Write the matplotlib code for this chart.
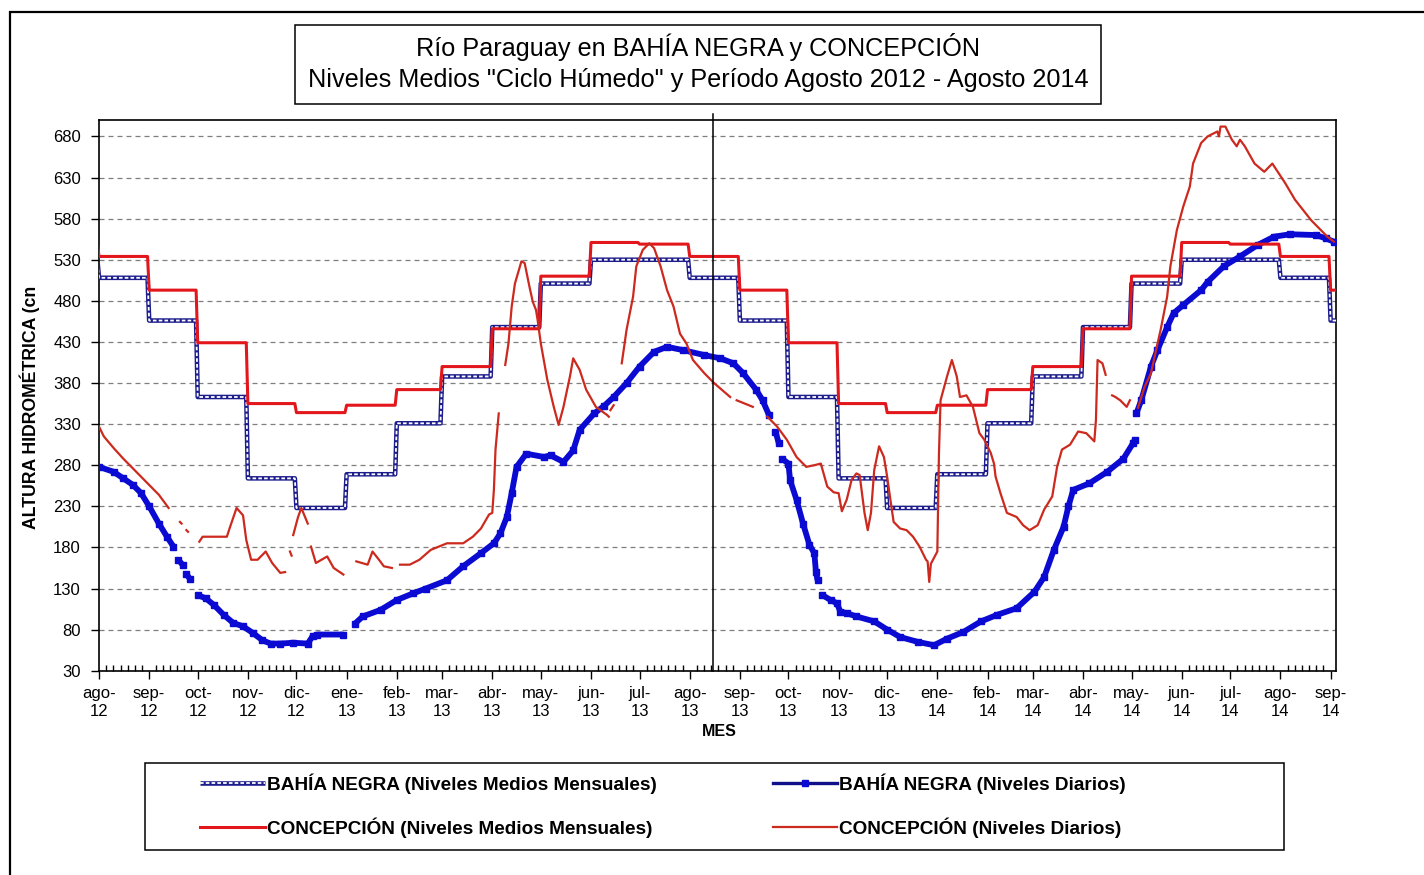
import numpy as np
import pandas as pd
import matplotlib
matplotlib.use('Agg')
import matplotlib.pyplot as plt
from matplotlib.lines import Line2D
from matplotlib.patches import Rectangle
from matplotlib import font_manager as fm
from matplotlib.ticker import FixedLocator, FixedFormatter, NullFormatter
import matplotlib.dates as mdates

# ---------------- DATA ----------------
START = pd.Timestamp('2012-08-01')
END = pd.Timestamp('2014-09-04 08:00')
DIVIDER_DATE = pd.Timestamp('2013-08-15 12:00')

# monthly means (step series), one value per month from jul-12 to sep-14
MONTH_START = pd.date_range('2012-07-01', '2014-09-01', freq='MS')
BN_MONTHLY = [530, 508, 456, 363, 264, 228, 269, 331, 388, 448, 501, 530,
              530, 508, 456, 363, 264, 228, 269, 331, 388, 448, 501, 530,
              530, 508, 456]
CONC_MONTHLY = [550, 534, 493, 429, 355, 344, 353, 372, 400, 446, 510, 551,
                549, 534, 493, 429, 355, 344, 353, 372, 400, 446, 510, 551,
                549, 534, 493]

# daily levels: day offset from 2012-08-01, value (nan = missing)
nan = np.nan
BN_DAY = [0, 9, 15, 21, 26, 31, 37, 42, 46, 47, 49, 52, 53, 54, 56, 57,
          61, 66, 71, 77, 83, 89, 95, 101, 106, 112, 120, 129, 132, 135, 151, 154,
          158, 163, 174, 184, 194, 202, 215, 225, 236, 244, 248, 252, 255, 258,
          264, 275, 279, 287, 293, 297, 306, 312, 318, 326, 334, 343, 351, 361,
          374, 384, 392, 398, 406, 410, 414, 416, 418, 420, 421, 422, 426, 427,
          431, 435, 439, 442, 443, 444, 445, 447, 452, 456, 458, 462, 468, 479,
          487, 495, 506, 516, 524, 534, 545, 555, 567, 578, 584, 590, 596, 599,
          602, 612, 623, 633, 639, 640, 640.5, 641, 644, 650, 654, 660, 664, 670,
          681, 685, 695, 705, 716, 726, 736, 752, 758, 763]
BN_VAL = [278, 272, 264, 256, 246, 230, 209, 193, 181, nan, 165, 158, nan, 148, 142, nan,
          122, 118, 110, 98, 88, 84, 76, 67, 63, 63, 64, 63, 72, 74, 74, nan,
          87, 96, 104, 116, 124, 130, 140, 157, 173, 185, 197, 217, 246, 278,
          294, 290, 292, 284, 298, 323, 343, 352, 363, 380, 400, 418, 424, 420,
          414, 410, 404, 392, 372, 359, 341, nan, 321, 307, nan, 288, 282, 262,
          238, 209, 183, 173, 150, 140, nan, 122, 116, 112, 102, 100, 96, 90,
          80, 71, 65, 61, 69, 77, 90, 98, 106, 126, 144, 177, 205, 230,
          250, 258, 272, 288, 307, 311, nan, 343, 359, 400, 420, 448, 465, 475,
          493, 503, 522, 534, 548, 558, 561, 560, 556, 552]

CONC_DAY = [0, 3, 9, 15, 23, 30, 37, 43, 46, 50, 51, 52, 54, 55, 58,
            62, 64, 71, 79, 81, 85, 89, 91, 94, 98, 103, 107, 112, 115, 117,
            118, 119, 119.5, 120, 123, 125, 129, 130,
            131, 134, 141, 145, 151, 155,
            159, 166, 169, 173, 176, 181, 184,
            186, 192, 198, 205, 215, 225, 231, 236, 241, 243, 244, 245, 247, 249,
            251, 253, 255, 257, 261, 263, 266, 268, 270, 271, 273, 277, 281, 284,
            287, 291, 293, 297, 301, 307, 314, 315, 315.5, 316, 318, 320,
            323, 326, 330, 332, 336, 340, 343, 347, 351, 355, 359, 363, 367, 374,
            380, 390, 392, 394, 404, 408,
            413, 419, 425, 431, 437, 442, 446, 450, 454, 457, 459, 462, 465, 468,
            470, 473, 475, 477, 479, 482, 485, 487, 489, 491, 495, 499, 503, 507,
            511, 512, 513, 514, 518, 519, 520, 524, 527, 530, 532, 536, 540, 544,
            547, 551, 553, 554, 557, 561, 567, 571, 575, 580, 584, 589, 592, 595,
            600, 605, 610, 615, 616, 617, 620, 622, 624,
            626, 628, 631, 635, 637, 639,
            642, 646, 650, 656, 660, 662, 666, 670, 674, 676, 681, 685, 691, 692,
            693, 696, 700, 703, 705, 708, 714, 720, 725, 733, 739, 743, 749, 755,
            759, 763]
CONC_VAL = [327, 315, 301, 288, 272, 258, 244, 228, nan, 211, 209, nan, 201, 199, nan,
            187, 193, 193, 193, 205, 228, 219, 189, 165, 165, 175, 161, 149, 150, nan,
            175, 170, nan, 195, 217, 228, 209, nan,
            181, 161, 169, 155, 147, nan,
            163, 159, 175, 165, 157, 155, nan,
            159, 159, 165, 177, 185, 185, 193, 203, 220, 222, 250, 299, 343, nan,
            402, 428, 473, 501, 528, 526, 497, 479, 469, 457, 428, 384, 351, 329,
            351, 388, 410, 396, 372, 351, 341, 339, nan, 347, 353, nan,
            404, 445, 485, 522, 542, 550, 544, 522, 493, 473, 440, 428, 408, 392,
            380, 363, nan, 359, 351, nan,
            339, 327, 311, 290, 278, 280, 282, 254, 247, 246, 224, 238, 262, 270,
            268, 222, 201, 222, 274, 303, 290, 266, 238, 211, 203, 201, 193, 181,
            165, 163, 138, 160, 175, 294, 359, 388, 408, 388, 363, 365, 351, 319,
            311, 295, 282, 266, 246, 222, 217, 207, 201, 207, 226, 242, 278, 299,
            305, 321, 319, 309, 335, 408, 404, 390, nan,
            365, 363, 359, 351, 359, nan,
            350, 375, 392, 445, 485, 522, 566, 595, 619, 647, 672, 680, 686, 680,
            692, 692, 676, 668, 676, 668, 647, 637, 647, 623, 603, 593, 578, 566,
            558, 552]

MONTH_ABBR = ['ene', 'feb', 'mar', 'abr', 'may', 'jun',
              'jul', 'ago', 'sep', 'oct', 'nov', 'dic']

TITLE_1 = 'Río Paraguay en BAHÍA NEGRA y CONCEPCIÓN'
TITLE_2 = 'Niveles Medios "Ciclo Húmedo" y Período Agosto 2012 - Agosto 2014'
YLABEL = 'ALTURA HIDROMÉTRICA (cn'
XLABEL = 'MES'
LEG_BN_M = 'BAHÍA NEGRA (Niveles Medios Mensuales)'
LEG_BN_D = 'BAHÍA NEGRA (Niveles Diarios)'
LEG_CO_M = 'CONCEPCIÓN (Niveles Medios Mensuales)'
LEG_CO_D = 'CONCEPCIÓN (Niveles Diarios)'

# ---------------- STYLE ----------------
avail = {f.name for f in fm.fontManager.ttflist}
BASE = 'Liberation Sans' if 'Liberation Sans' in avail else 'DejaVu Sans'
plt.rcParams['font.family'] = [BASE, 'DejaVu Sans']

W, H = 1424, 875
fig = plt.figure(figsize=(W / 100, H / 100), dpi=100)
fig.patch.set_facecolor('white')

def fx(px):
    return px / W

def fy(py):
    return 1 - py / H

ax_l, ax_r, ax_t, ax_b = 99, 1336, 120, 670.7
ax = fig.add_axes([fx(ax_l), fy(ax_b), fx(ax_r - ax_l), (ax_b - ax_t) / H])

# monthly step series expanded to daily resolution
daily_idx = pd.date_range('2012-07-01', '2014-09-30', freq='D')
bn_m_s = pd.Series(BN_MONTHLY, index=MONTH_START).reindex(daily_idx, method='ffill')
co_m_s = pd.Series(CONC_MONTHLY, index=MONTH_START).reindex(daily_idx, method='ffill')

NAVY = '#1c1c8c'
BLUE = '#0a0ad2'
RED_M = '#e3161b'
RED_D = '#cc2a1e'

l_bn_m1, = ax.plot(bn_m_s.index, bn_m_s.values, color=NAVY, lw=3.3, zorder=3,
                   solid_capstyle='butt')
l_bn_m2, = ax.plot(bn_m_s.index, bn_m_s.values, color='white', lw=1.3, zorder=3.1,
                   dashes=(2.0, 1.2), dash_capstyle='butt')

bn_x = START + pd.to_timedelta(BN_DAY, unit='D')
l_bn_d, = ax.plot(bn_x, BN_VAL, color=BLUE, lw=4.2, marker='s', markersize=5,
                  markerfacecolor=BLUE, markeredgecolor=BLUE, zorder=4,
                  solid_capstyle='butt')

l_co_m, = ax.plot(co_m_s.index, co_m_s.values, color=RED_M, lw=2.2, zorder=5)

co_x = START + pd.to_timedelta(CONC_DAY, unit='D')
l_co_d, = ax.plot(co_x, CONC_VAL, color=RED_D, lw=1.6, zorder=6)

# divider line
ax.axvline(DIVIDER_DATE, ymin=0, ymax=1.011, color='black', lw=1.1, clip_on=False, zorder=7)

ax.set_xlim(START, END)
ax.set_ylim(30, 700)

# y ticks
ax.set_yticks(np.arange(30, 681, 50))
ax.tick_params(axis='y', direction='out', length=6, width=1, pad=7, labelsize=12)
ax.yaxis.grid(True, color='#7f7f7f', lw=0.9, dashes=(4, 3.2))
ax.set_axisbelow(True)

# x ticks
majors = pd.date_range('2012-08-01', '2014-09-01', freq='MS')
labels = [f"{MONTH_ABBR[d.month - 1]}-\n{d.year % 100:02d}" for d in majors]
ax.xaxis.set_major_locator(FixedLocator(mdates.date2num(majors)))
ax.xaxis.set_major_formatter(FixedFormatter(labels))
minor_pos = []
edges = list(majors) + [pd.Timestamp('2014-10-01')]
for a, b in zip(edges[:-1], edges[1:]):
    span = (b - a) / 7
    for k in range(1, 7):
        t = a + k * span
        if t <= END:
            minor_pos.append(mdates.date2num(t))
ax.xaxis.set_minor_locator(FixedLocator(minor_pos))
ax.xaxis.set_minor_formatter(NullFormatter())
ax.tick_params(axis='x', which='major', direction='out', length=6, width=1, pad=5,
               labelsize=12)
ax.tick_params(axis='x', which='minor', direction='in', length=4, width=1)
for t in ax.get_xticklabels():
    t.set_linespacing(1.25)
    t.set_multialignment('center')

for s in ax.spines.values():
    s.set_color('black')
    s.set_linewidth(1.2)

ax.set_ylabel(YLABEL, fontweight='bold', fontsize=12.7)
ax.yaxis.set_label_coords((30 - ax_l) / (ax_r - ax_l), (ax_b - 407) / (ax_b - ax_t))
ax.yaxis.label.set_va('center')
ax.set_xlabel(XLABEL, fontweight='bold', fontsize=11.5)
ax.xaxis.set_label_coords((719 - ax_l) / (ax_r - ax_l), (ax_b - 731) / (ax_b - ax_t))
ax.xaxis.label.set_va('center')

# outer frame (left and top visible)
fig.patches.append(Rectangle((fx(10), -0.2), 1.2, fy(12) + 0.2, transform=fig.transFigure,
                             fill=False, edgecolor='black', lw=1.6))

# title box
fig.patches.append(Rectangle((fx(295), fy(104)), fx(1101 - 295), 79 / H,
                             transform=fig.transFigure, fill=False,
                             edgecolor='black', lw=1.1))
fig.text(fx(698), fy(47), TITLE_1, ha='center', va='center', fontsize=18.2)
fig.text(fx(698), fy(80), TITLE_2, ha='center', va='center', fontsize=18.2)

# legend box
fig.patches.append(Rectangle((fx(145), fy(850)), fx(1284 - 145), 87 / H,
                             transform=fig.transFigure, fill=False,
                             edgecolor='black', lw=1.1))
h_bn_d = Line2D([], [], color='#10108a', lw=2.4, marker='s', markersize=4,
                markerfacecolor=BLUE, markeredgecolor=BLUE)
leg = fig.legend(handles=[(l_bn_m1, l_bn_m2), l_co_m, h_bn_d, l_co_d],
                 labels=[LEG_BN_M, LEG_CO_M, LEG_BN_D, LEG_CO_D],
                 ncol=2, loc='upper left', bbox_to_anchor=(fx(200), fy(773)),
                 frameon=False, borderpad=0, borderaxespad=0,
                 handlelength=3.4, handletextpad=0.1, columnspacing=6.1,
                 labelspacing=1.26,
                 prop={'family': BASE, 'weight': 'bold', 'size': 13.7})

fig.savefig('out.png', dpi=100, facecolor='white')
